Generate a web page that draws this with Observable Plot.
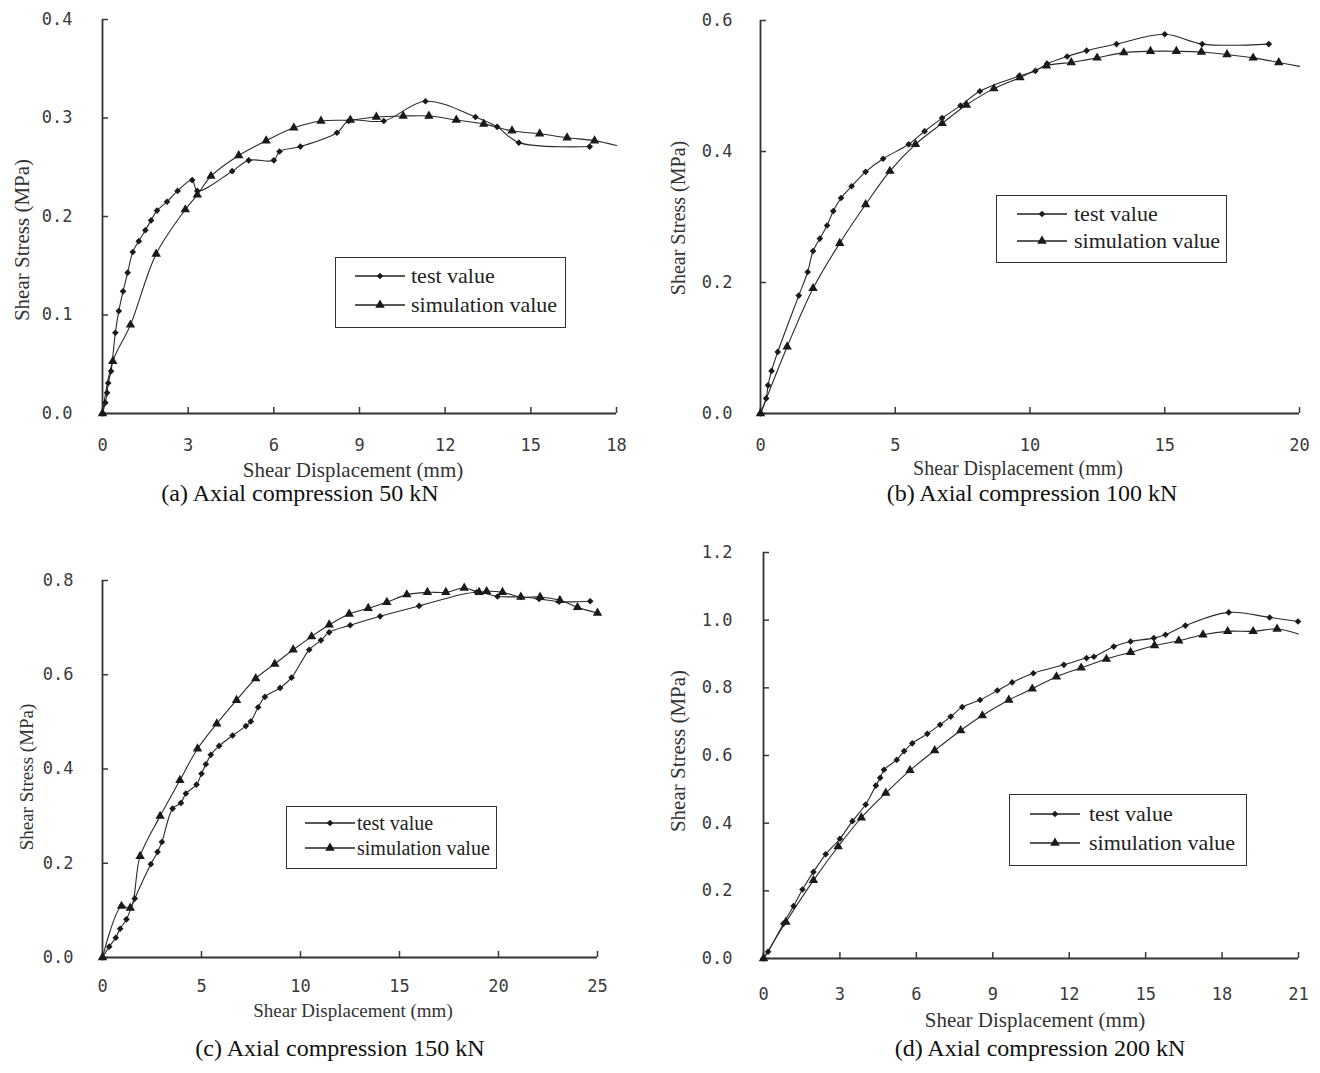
<!DOCTYPE html>
<html><head><meta charset="utf-8">
<script src="https://cdn.jsdelivr.net/npm/d3@7"></script>
<script src="https://cdn.jsdelivr.net/npm/@observablehq/plot@0.6"></script>
<style>
body{margin:0;background:#fff;}
#fig{position:relative;width:1320px;height:1073px;overflow:hidden;font-family:"Liberation Serif","Times New Roman",serif;color:#222;background:#fff;}
.panel{position:absolute;}
.panel svg{overflow:visible;}
.cap{position:absolute;transform:translate(-50%,-50%);white-space:nowrap;font-size:24px;line-height:1;color:#111;}
.xt{position:absolute;transform:translate(-50%,-50%);white-space:nowrap;line-height:1;color:#333;}
.yt{position:absolute;transform:translate(-50%,-50%) rotate(-90deg);white-space:nowrap;line-height:1;color:#333;}
.leg{position:absolute;border:1.5px solid #333;box-sizing:border-box;background:#fff;}
.row{position:absolute;left:0;white-space:nowrap;}
.row svg{position:absolute;top:-7px;}
.row span{position:absolute;transform:translateY(-50%);line-height:1;color:#222;font-family:"Liberation Serif","Times New Roman",serif;}
</style>
</head><body><div id="fig"></div>
<script>
// ---------- data (shear displacement mm, shear stress MPa) ----------
const testA = [[0,0],[0.1,0.011],[0.16,0.021],[0.2,0.031],[0.3,0.043],[0.45,0.082],[0.57,0.104],[0.72,0.124],[0.88,0.143],[1.06,0.164],[1.27,0.175],[1.5,0.186],[1.7,0.196],[1.91,0.206],[2.26,0.215],[2.63,0.226],[3.14,0.237],[3.32,0.226],[4.54,0.246],[5.12,0.257],[6.0,0.257],[6.2,0.266],[6.93,0.271],[8.21,0.285],[8.62,0.297],[9.85,0.297],[11.31,0.317],[13.06,0.301],[13.82,0.291],[14.58,0.275],[17.06,0.271]];
const simA = [[0,0],[0.36,0.053],[0.98,0.090],[1.88,0.162],[2.9,0.207],[3.32,0.222],[3.8,0.241],[4.77,0.262],[5.73,0.277],[6.7,0.290],[7.65,0.297],[8.68,0.298],[9.59,0.301],[10.53,0.302],[11.43,0.302],[12.39,0.298],[13.35,0.294],[14.34,0.287],[15.31,0.284],[16.27,0.280],[17.23,0.277]];
const simTailA = [18,0.272];

const testB = [[0,0],[0.21,0.023],[0.28,0.043],[0.41,0.065],[0.64,0.094],[1.42,0.180],[1.75,0.216],[1.95,0.248],[2.2,0.267],[2.47,0.287],[2.7,0.309],[2.99,0.329],[3.38,0.347],[3.9,0.369],[4.55,0.389],[5.5,0.411],[6.09,0.431],[6.74,0.451],[7.42,0.470],[8.14,0.492],[9.59,0.515],[10.2,0.523],[10.64,0.534],[11.38,0.545],[12.1,0.554],[13.21,0.564],[15.0,0.579],[16.39,0.564],[18.86,0.564]];
const simB = [[0,0],[0.99,0.102],[1.95,0.191],[2.94,0.260],[3.9,0.319],[4.8,0.370],[5.75,0.411],[6.74,0.443],[7.64,0.471],[8.66,0.496],[9.63,0.513],[10.61,0.531],[11.53,0.536],[12.49,0.543],[13.48,0.551],[14.47,0.553],[15.43,0.553],[16.36,0.552],[17.31,0.548],[18.28,0.543],[19.23,0.536]];
const simTailB = [20,0.530];

const testC = [[0,0],[0.34,0.023],[0.67,0.042],[0.89,0.061],[1.21,0.081],[1.63,0.125],[2.44,0.198],[2.78,0.224],[3.0,0.245],[3.54,0.316],[3.96,0.328],[4.21,0.348],[4.75,0.367],[5.0,0.390],[5.22,0.410],[5.47,0.430],[5.89,0.449],[6.57,0.471],[7.24,0.491],[7.49,0.501],[7.86,0.531],[8.2,0.553],[8.97,0.572],[9.55,0.594],[10.44,0.653],[11.03,0.673],[11.45,0.690],[12.51,0.705],[14.02,0.724],[15.99,0.746],[18.9,0.775],[19.95,0.766],[21.13,0.765],[22.05,0.761],[23.06,0.755],[24.63,0.756]];
const simC = [[0,0],[0.96,0.109],[1.4,0.105],[1.9,0.215],[2.91,0.300],[3.91,0.376],[4.8,0.443],[5.77,0.496],[6.77,0.546],[7.74,0.592],[8.7,0.623],[9.63,0.653],[10.56,0.681],[11.45,0.706],[12.46,0.729],[13.42,0.741],[14.36,0.754],[15.37,0.770],[16.41,0.775],[17.34,0.775],[18.27,0.784],[19.02,0.775],[19.4,0.777],[20.2,0.775],[21.13,0.765],[22.1,0.765],[23.1,0.758],[23.99,0.743],[25.0,0.731]];
const simTailC = null;

const testD = [[0,0],[0.18,0.020],[0.78,0.103],[1.18,0.155],[1.53,0.204],[1.96,0.256],[2.44,0.308],[3.0,0.354],[3.49,0.406],[4.01,0.455],[4.41,0.511],[4.58,0.534],[4.73,0.558],[5.23,0.587],[5.52,0.613],[5.84,0.636],[6.43,0.664],[6.93,0.691],[7.35,0.715],[7.8,0.743],[8.5,0.764],[9.18,0.792],[9.76,0.816],[10.59,0.843],[11.79,0.868],[12.68,0.888],[12.97,0.892],[13.75,0.922],[14.41,0.937],[15.32,0.947],[15.78,0.957],[16.56,0.984],[18.26,1.023],[19.87,1.008],[20.98,0.996]];
const simD = [[0,0],[0.88,0.108],[1.96,0.231],[2.93,0.331],[3.84,0.416],[4.8,0.489],[5.75,0.556],[6.72,0.615],[7.74,0.674],[8.59,0.718],[9.63,0.764],[10.55,0.797],[11.5,0.833],[12.47,0.859],[13.46,0.885],[14.41,0.905],[15.35,0.925],[16.3,0.939],[17.25,0.957],[18.22,0.967],[19.22,0.967],[20.16,0.974]];
const simTailD = [21,0.959];

// ---------- ticks & text ----------
const xTicksA = [0,3,6,9,12,15,18];
const yTicksA = [0,0.1,0.2,0.3,0.4];
const xTicksB = [0,5,10,15,20];
const yTicksB = [0,0.2,0.4,0.6];
const xTicksC = [0,5,10,15,20,25];
const yTicksC = [0,0.2,0.4,0.6,0.8];
const xTicksD = [0,3,6,9,12,15,18,21];
const yTicksD = [0,0.2,0.4,0.6,0.8,1.0,1.2];
const captions = ["(a) Axial compression 50 kN","(b) Axial compression 100 kN","(c) Axial compression 150 kN","(d) Axial compression 200 kN"];
const xTitle = "Shear Displacement (mm)";
const yTitle = "Shear Stress (MPa)";
const seriesNames = ["test value","simulation value"];

// ---------- layout ----------
const panels = [
  {test:testA, sim:simA, tail:simTailA, xt:xTicksA, yt:yTicksA, left:0, top:0, width:650, height:490, ml:102, mr:34, mt:19, mb:77, xpad:31, ypad:36,
   cap:[300,493], xtl:[353,470,21], ytl:[22,240,21], leg:{x:335,y:257,w:231,h:71,r1:18,r2:47,l0:19,l1:68,tx:75,fs:22}},
  {test:testB, sim:simB, tail:simTailB, xt:xTicksB, yt:yTicksB, left:660, top:0, width:660, height:490, ml:100, mr:21, mt:20, mb:77, xpad:31, ypad:34,
   cap:[1032,493], xtl:[1018,468,20], ytl:[678,218,20], leg:{x:996,y:195,w:231,h:68,r1:18,r2:45,l0:20,l1:71,tx:77,fs:22}},
  {test:testC, sim:simC, tail:simTailC, xt:xTicksC, yt:yTicksC, left:0, top:540, width:650, height:480, ml:102, mr:53, mt:40, mb:63, xpad:28, ypad:35,
   cap:[340,1048], xtl:[353,1010,19], ytl:[26,777,19], leg:{x:286,y:806,w:211,h:63,r1:16,r2:41,l0:18,l1:67,tx:70,fs:20}},
  {test:testD, sim:simD, tail:simTailD, xt:xTicksD, yt:yTicksD, left:660, top:530, width:660, height:490, ml:103, mr:22, mt:22, mb:62, xpad:35, ypad:37,
   cap:[1040,1048], xtl:[1035,1020,21], ytl:[678,751,21], leg:{x:1009,y:794,w:238,h:72,r1:19,r2:48,l0:20,l1:71,tx:79,fs:22}}
];

const fig = document.getElementById("fig");
const ink = "#1a1a1a";

function legendSample(kind){
  const ns = "http://www.w3.org/2000/svg";
  const s = document.createElementNS(ns,"svg");
  s.setAttribute("width","52"); s.setAttribute("height","14");
  const l = document.createElementNS(ns,"line");
  l.setAttribute("x1","0"); l.setAttribute("x2","50"); l.setAttribute("y1","7"); l.setAttribute("y2","7");
  l.setAttribute("stroke","#222"); l.setAttribute("stroke-width","1.3");
  s.appendChild(l);
  const p = document.createElementNS(ns,"path");
  p.setAttribute("transform","translate(25,7)");
  p.setAttribute("d", d3.symbol(kind==="test"? d3.symbolDiamond2 : d3.symbolTriangle, kind==="test"? 28 : 40)());
  p.setAttribute("fill", ink);
  s.appendChild(p);
  return s;
}

panels.forEach((p,i)=>{
  const simLine = p.tail ? p.sim.concat([p.tail]) : p.sim;
  const chart = Plot.plot({
    width:p.width, height:p.height,
    marginLeft:p.ml, marginRight:p.mr, marginTop:p.mt, marginBottom:p.mb,
    x:{domain:[0, p.xt[p.xt.length-1]]},
    y:{domain:[0, p.yt[p.yt.length-1]]},
    style:{fontFamily:"'DejaVu Sans Mono', monospace", fontSize:"17px", color:"#3a3a3a", background:"transparent", overflow:"visible"},
    marks:[
      Plot.axisX(p.xt, {tickSize:-6, tickPadding:p.xpad, strokeWidth:1.5, label:null, tickFormat:d=>String(d)}),
      Plot.axisY(p.yt, {tickSize:-6, tickPadding:p.ypad, strokeWidth:1.5, label:null, tickFormat:d3.format(".1f")}),
      Plot.ruleY([0], {stroke:"#333", strokeWidth:1.8}),
      Plot.ruleX([0], {stroke:"#333", strokeWidth:1.8}),
      Plot.line(simLine, {x:d=>d[0], y:d=>d[1], curve:"catmull-rom", stroke:"#2a2a2a", strokeWidth:1.1}),
      Plot.line(p.test, {x:d=>d[0], y:d=>d[1], curve:"catmull-rom", stroke:"#2a2a2a", strokeWidth:1.1}),
      Plot.dot(p.sim, {x:d=>d[0], y:d=>d[1], symbol:"triangle", r:3.5, fill:ink, stroke:"none"}),
      Plot.dot(p.test, {x:d=>d[0], y:d=>d[1], symbol:"diamond2", r:3, fill:ink, stroke:"none"})
    ]
  });
  const wrap = document.createElement("div");
  wrap.className = "panel";
  wrap.style.left = p.left+"px"; wrap.style.top = p.top+"px";
  wrap.appendChild(chart);
  fig.appendChild(wrap);

  const xt = document.createElement("div");
  xt.className = "xt"; xt.textContent = xTitle;
  xt.style.left = p.xtl[0]+"px"; xt.style.top = p.xtl[1]+"px"; xt.style.fontSize = p.xtl[2]+"px";
  fig.appendChild(xt);

  const yt = document.createElement("div");
  yt.className = "yt"; yt.textContent = yTitle;
  yt.style.left = p.ytl[0]+"px"; yt.style.top = p.ytl[1]+"px"; yt.style.fontSize = p.ytl[2]+"px";
  fig.appendChild(yt);

  const cap = document.createElement("div");
  cap.className = "cap"; cap.textContent = captions[i];
  cap.style.left = p.cap[0]+"px"; cap.style.top = p.cap[1]+"px";
  fig.appendChild(cap);

  const L = p.leg;
  const box = document.createElement("div");
  box.className = "leg";
  box.style.left = L.x+"px"; box.style.top = L.y+"px"; box.style.width = L.w+"px"; box.style.height = L.h+"px";
  [["test",L.r1,seriesNames[0]],["sim",L.r2,seriesNames[1]]].forEach(([k,ry,name])=>{
    const row = document.createElement("div");
    row.className = "row"; row.style.top = ry+"px";
    const s = legendSample(k); s.style.left = L.l0+"px";
    row.appendChild(s);
    const t = document.createElement("span");
    t.textContent = name; t.style.left = L.tx+"px"; t.style.fontSize = L.fs+"px";
    row.appendChild(t);
    box.appendChild(row);
  });
  fig.appendChild(box);
});
</script>
</body></html>
